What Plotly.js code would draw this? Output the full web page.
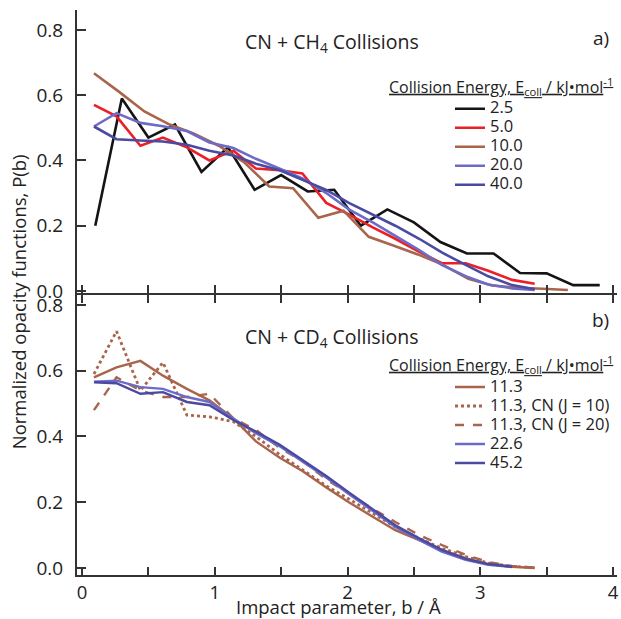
<!DOCTYPE html>
<html>
<head>
<meta charset="utf-8">
<script src="https://cdn.plot.ly/plotly-3.0.1.min.js"></script>
<style>html,body{margin:0;padding:0;background:#fff;}#chart{width:621px;height:619px;}</style>
</head>
<body>
<div id="chart"></div>
<script>
// ---------- Panel a) CN + CH4 ----------
const bBlack = [0.1,0.3,0.5,0.7,0.9,1.1,1.3,1.5,1.7,1.9,2.1,2.3,2.5,2.7,2.9,3.1,3.3,3.5,3.7,3.9];
const p2_5 = [0.20,0.59,0.47,0.51,0.365,0.44,0.31,0.355,0.305,0.31,0.20,0.25,0.21,0.15,0.115,0.115,0.055,0.054,0.018,0.018];

const bRed = [0.09,0.26,0.44,0.61,0.79,0.96,1.14,1.31,1.49,1.66,1.84,2.01,2.19,2.36,2.54,2.71,2.89,3.06,3.24,3.41];
const p5_0 = [0.57,0.535,0.445,0.47,0.44,0.40,0.43,0.375,0.37,0.36,0.27,0.235,0.195,0.16,0.12,0.085,0.085,0.062,0.034,0.022];

const bBrown = [0.09,0.28,0.47,0.66,0.84,1.03,1.22,1.41,1.59,1.78,1.97,2.16,2.34,2.53,2.72,2.91,3.09,3.28,3.47,3.66];
const p10_0 = [0.667,0.61,0.55,0.51,0.483,0.445,0.395,0.32,0.315,0.224,0.246,0.166,0.14,0.112,0.08,0.037,0.017,0.01,0.007,0.003];

const bBlue = [0.09,0.26,0.44,0.61,0.79,0.96,1.14,1.31,1.49,1.66,1.84,2.01,2.19,2.36,2.54,2.71,2.89,3.06,3.24,3.41];
const p20_0 = [0.504,0.545,0.515,0.505,0.49,0.455,0.438,0.405,0.375,0.345,0.30,0.25,0.21,0.17,0.125,0.08,0.045,0.02,0.008,0.003];
const p40_0 = [0.504,0.465,0.461,0.458,0.448,0.43,0.415,0.39,0.37,0.34,0.31,0.27,0.235,0.20,0.16,0.118,0.08,0.045,0.018,0.005];

const namesA = ['2.5','5.0','10.0','20.0','40.0'];

// ---------- Panel b) CN + CD4 ----------
const bD = [0.09,0.26,0.44,0.61,0.79,0.96,1.14,1.31,1.49,1.66,1.84,2.01,2.19,2.36,2.54,2.71,2.89,3.06,3.24,3.41];
const d11_3 = [0.58,0.61,0.63,0.585,0.545,0.51,0.455,0.385,0.335,0.295,0.245,0.20,0.156,0.115,0.085,0.055,0.03,0.012,0.004,0.0];
const d11_3J10 = [0.59,0.72,0.54,0.625,0.465,0.46,0.445,0.40,0.345,0.30,0.25,0.21,0.165,0.125,0.09,0.06,0.035,0.015,0.005,0.001];
const d11_3J20 = [0.48,0.58,0.54,0.52,0.52,0.53,0.455,0.42,0.365,0.325,0.27,0.225,0.18,0.14,0.10,0.07,0.04,0.018,0.006,0.001];
const bDblue = [0.09,0.26,0.44,0.61,0.79,0.96,1.14,1.31,1.49,1.66,1.84,2.01,2.19,2.36,2.54,2.71,2.89,3.06,3.24];
const d22_6 = [0.567,0.57,0.55,0.545,0.52,0.505,0.455,0.41,0.37,0.325,0.275,0.225,0.175,0.125,0.085,0.05,0.025,0.01,0.003];
const d45_2 = [0.565,0.562,0.53,0.535,0.505,0.495,0.45,0.415,0.375,0.33,0.28,0.23,0.18,0.13,0.09,0.055,0.028,0.012,0.004];

const namesB = ['11.3','11.3, CN (J = 10)','11.3, CN (J = 20)','22.6','45.2'];

const xTickVals = [0,0.5,1,1.5,2,2.5,3,3.5,4];
const xTickText = ['0','','1','','2','','3','','4'];
const yTickVals = [0,0.2,0.4,0.6,0.8];
const yTickText = ['0.0','0.2','0.4','0.6','0.8'];

const FONT = 'Open Sans, Noto Sans, sans-serif';
const C = {black:'#141414', red:'#ec1f27', brown:'#a9644c', blueL:'#6c6cc6', blueD:'#4a4aa2'};

function lbl(t){ return '<span style="font-size:16.5px">' + t + '</span>'; }

function tr(x, y, name, color, dash, w, xa, ya, leg){
  return {x:x, y:y, name:lbl(name), type:'scatter', mode:'lines',
    line:{color:color, width:w, dash:dash}, xaxis:xa, yaxis:ya, legend:leg};
}

const data = [
  tr(bBlack, p2_5, namesA[0], C.black, 'solid', 2.6, 'x2', 'y2', 'legend'),
  tr(bRed, p5_0, namesA[1], C.red, 'solid', 2.6, 'x2', 'y2', 'legend'),
  tr(bBrown, p10_0, namesA[2], C.brown, 'solid', 2.6, 'x2', 'y2', 'legend'),
  tr(bBlue, p20_0, namesA[3], C.blueL, 'solid', 2.6, 'x2', 'y2', 'legend'),
  tr(bBlue, p40_0, namesA[4], C.blueD, 'solid', 2.6, 'x2', 'y2', 'legend'),
  tr(bD, d11_3, namesB[0], C.brown, 'solid', 2.4, 'x', 'y', 'legend2'),
  tr(bD, d11_3J10, namesB[1], C.brown, 'dot', 2.8, 'x', 'y', 'legend2'),
  tr(bD, d11_3J20, namesB[2], C.brown, 'dash', 2.4, 'x', 'y', 'legend2'),
  tr(bDblue, d22_6, namesB[3], C.blueL, 'solid', 2.4, 'x', 'y', 'legend2'),
  tr(bDblue, d45_2, namesB[4], C.blueD, 'solid', 2.4, 'x', 'y', 'legend2')
];

const splitY = 0.4956;
const axCommon = {showgrid:false, zeroline:false, showline:true, linecolor:'#333', linewidth:2,
  ticks:'inside', tickcolor:'#333', tickwidth:2, tickfont:{family:FONT, size:19, color:'#222'}};

const legTitle = 'Collision Energy, E<sub>coll</sub> / kJ•mol<sup>-1</sup>';

const layout = {
  width:621, height:619,
  margin:{l:77, r:4, t:10, b:44},
  paper_bgcolor:'#fff', plot_bgcolor:'rgba(0,0,0,0)',
  font:{family:FONT, color:'#222'},
  showlegend:true,
  xaxis: Object.assign({}, axCommon, {domain:[0,1], range:[-0.0377,4.03], anchor:'y',
    tickvals:xTickVals, ticktext:xTickText, ticklen:8, mirror:'ticks', ticklabelstandoff:0,
    tickfont:{family:FONT, size:18.5, color:'#222'}}),
  yaxis: Object.assign({}, axCommon, {domain:[0,splitY], range:[-0.0213,0.8304], anchor:'x',
    tickvals:yTickVals, ticktext:yTickText, ticklen:9, ticklabelstandoff:8}),
  xaxis2: Object.assign({}, axCommon, {domain:[0,1], range:[-0.0377,4.03], anchor:'y2', matches:'x',
    showline:false, tickvals:xTickVals, showticklabels:false, ticklen:10}),
  yaxis2: Object.assign({}, axCommon, {domain:[splitY,1], range:[-0.0123,0.861], anchor:'x2',
    tickvals:yTickVals, ticktext:yTickText, ticklen:9, ticklabelstandoff:8}),
  legend:{x:0.6907, y:0.851, xanchor:'left', yanchor:'top', bgcolor:'rgba(0,0,0,0)', borderwidth:0,
    font:{family:FONT, size:11.5, color:'#222'}, traceorder:'normal', itemclick:false},
  legend2:{x:0.6907, y:0.3584, xanchor:'left', yanchor:'top', bgcolor:'rgba(0,0,0,0)', borderwidth:0,
    font:{family:FONT, size:11.5, color:'#222'}, traceorder:'normal', itemclick:false},
  annotations:[
    {xref:'paper', yref:'paper', x:0.472, y:0.9416, text:'CN + CH<sub>4</sub> Collisions', showarrow:false,
      font:{family:FONT, size:19.5, color:'#222'}, xanchor:'center', yanchor:'middle'},
    {xref:'paper', yref:'paper', x:0.472, y:0.4195, text:'CN + CD<sub>4</sub> Collisions', showarrow:false,
      font:{family:FONT, size:19.5, color:'#222'}, xanchor:'center', yanchor:'middle'},
    {xref:'paper', yref:'paper', x:0.970, y:0.950, text:'a)', showarrow:false,
      font:{family:FONT, size:19, color:'#222'}, xanchor:'center', yanchor:'middle'},
    {xref:'paper', yref:'paper', x:0.970, y:0.451, text:'b)', showarrow:false,
      font:{family:FONT, size:19, color:'#222'}, xanchor:'center', yanchor:'middle'},
    {xref:'paper', yref:'paper', x:0.785, y:0.865, text:'<u>'+legTitle+'</u>', showarrow:false,
      font:{family:FONT, size:16, color:'#222'}, xanchor:'center', yanchor:'middle'},
    {xref:'paper', yref:'paper', x:0.785, y:0.373, text:'<u>'+legTitle+'</u>', showarrow:false,
      font:{family:FONT, size:16, color:'#222'}, xanchor:'center', yanchor:'middle'},
    {xref:'paper', yref:'paper', x:-0.109, y:0.483, text:'Normalized opacity functions, P(b)', showarrow:false,
      textangle:-90, font:{family:FONT, size:18.5, color:'#222'}, xanchor:'center', yanchor:'middle'},
    {xref:'paper', yref:'paper', x:0.485, y:-0.0549, text:'Impact parameter, b / Å', showarrow:false,
      font:{family:FONT, size:18.5, color:'#222'}, xanchor:'center', yanchor:'middle'}
  ]
};

Plotly.newPlot('chart', data, layout, {displayModeBar:false, staticPlot:true});
</script>
</body>
</html>
